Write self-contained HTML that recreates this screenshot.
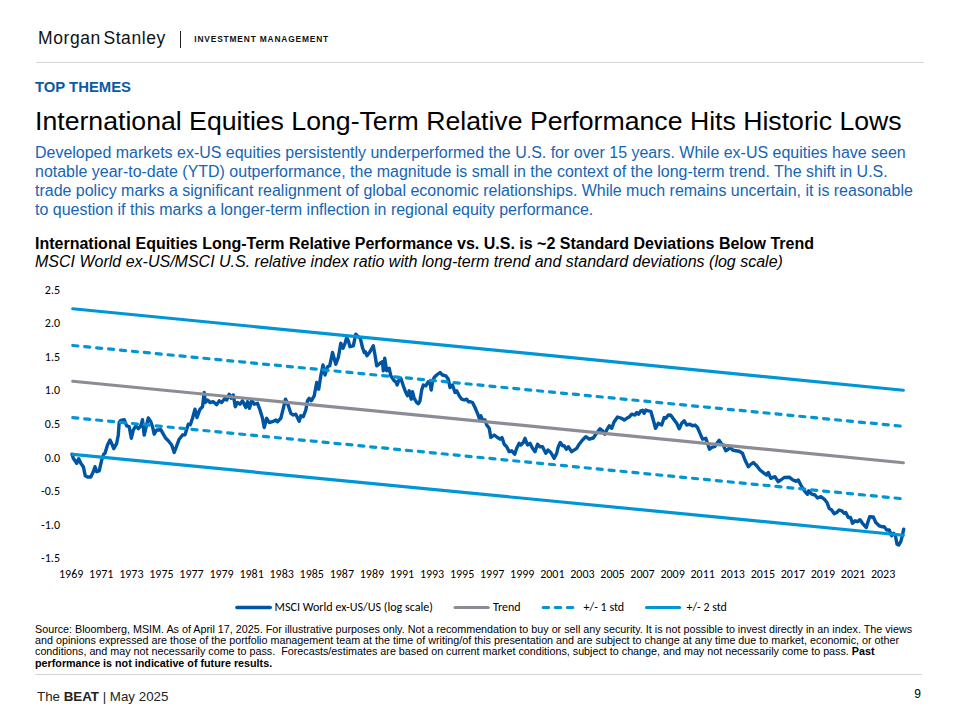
<!DOCTYPE html>
<html lang="en"><head><meta charset="utf-8"><title>The BEAT - Top Themes</title>
<style>
html,body{margin:0;padding:0;background:#fff;}
body{width:960px;height:720px;position:relative;overflow:hidden;font-family:"Liberation Sans",Arial,sans-serif;color:#000;}
.abs{position:absolute;white-space:nowrap;}
.chart{position:absolute;left:0;top:0;}
.logo{left:38px;top:27.5px;font-size:17.5px;line-height:20px;letter-spacing:0.58px;word-spacing:-2.84px;color:#111;}
.bar{position:absolute;left:180px;top:30.7px;width:1px;height:17px;background:#222;}
.im{left:194.3px;top:33.4px;font-size:8.4px;line-height:12px;font-weight:bold;letter-spacing:0.83px;color:#111;}
.rule{position:absolute;height:1.3px;background:#D4D4D4;}
.top{left:35px;top:78.6px;font-size:14.85px;line-height:17px;font-weight:bold;color:#0A5AA6;}
.title{left:35px;top:105.9px;font-size:26.67px;line-height:31px;}
.sub{left:35px;top:143.4px;font-size:15.97px;line-height:19px;color:#1565B4;white-space:normal;width:900px;}
.ct{left:35px;top:234.5px;font-size:16px;line-height:18px;font-weight:bold;}
.ci{left:35px;top:252.5px;font-size:16px;line-height:18px;font-style:italic;}
.src{left:35px;top:623.5px;font-size:10.76px;line-height:11.45px;white-space:normal;width:900px;}
.foot{left:37px;top:688.8px;font-size:13.33px;line-height:15px;color:#222;}
.pg{left:914.3px;top:686.5px;font-size:12px;line-height:14px;}
</style></head><body>
<div class="abs logo">Morgan Stanley</div>
<div class="bar"></div>
<div class="abs im">INVESTMENT MANAGEMENT</div>
<div class="rule" style="left:36px;top:61.7px;width:887.5px;"></div>
<div class="abs top">TOP THEMES</div>
<div class="abs title">International Equities Long-Term Relative Performance Hits Historic Lows</div>
<div class="abs sub">Developed markets ex-US equities persistently underperformed the U.S. for over 15 years. While ex-US equities have seen<br>notable year-to-date (YTD) outperformance, the magnitude is small in the context of the long-term trend. The shift in U.S.<br>trade policy marks a significant realignment of global economic relationships. While much remains uncertain, it is reasonable<br>to question if this marks a longer-term inflection in regional equity performance.</div>
<div class="abs ct">International Equities Long-Term Relative Performance vs. U.S. is ~2 Standard Deviations Below Trend</div>
<div class="abs ci">MSCI World ex-US/MSCI U.S. relative index ratio with long-term trend and standard deviations (log scale)</div>
<svg class="chart" width="960" height="720" viewBox="0 0 960 720">
<g fill="none" stroke-linecap="round" stroke-linejoin="round">
<polyline points="72.0,454.2 73.3,458.3 76.7,463.3 78.7,458.7 80.8,463.3 83.3,466.7 85.3,475.8 87.5,477.0 90.8,477.0 93.3,471.7 95.0,466.7 96.7,471.7 99.2,470.8 101.7,460.0 103.7,454.2 105.0,453.3 107.5,445.0 110.0,440.0 112.0,444.2 113.7,448.7 116.7,443.3 118.3,435.0 119.2,422.5 120.8,420.3 124.2,419.7 126.7,425.8 129.2,426.7 131.3,438.3 133.3,430.0 135.8,425.8 138.3,428.7 140.8,425.8 142.5,419.7 144.2,435.0 145.8,428.3 148.3,418.0 150.8,421.7 152.5,426.7 154.2,434.2 156.7,430.0 160.8,429.7 163.3,434.2 165.8,438.3 168.3,440.8 171.7,445.0 174.2,452.5 176.7,445.8 179.2,439.2 182.5,435.0 185.0,434.7 188.3,424.2 190.3,424.7 192.5,418.3 195.0,409.2 197.0,417.5 200.0,409.2 202.5,406.7 204.2,392.5 205.3,402.5 207.5,400.0 210.0,402.5 213.3,401.7 216.7,404.7 219.2,400.8 221.7,402.5 225.0,398.3 226.7,400.0 229.2,394.2 231.2,398.3 233.3,395.0 235.3,406.7 237.5,402.5 240.0,404.2 242.5,400.8 245.8,407.5 247.5,401.7 249.5,408.3 251.7,400.0 254.2,404.2 257.5,403.3 260.0,410.0 262.5,418.3 264.2,427.5 266.7,418.3 269.2,422.5 272.5,421.7 275.8,420.0 277.5,421.7 280.8,418.3 283.3,408.3 285.5,399.2 287.5,403.3 290.8,413.3 293.3,415.0 295.8,414.2 299.2,421.3 300.8,415.8 303.3,416.7 305.8,410.0 307.5,400.8 309.2,398.3 311.3,400.8 314.2,395.8 316.7,382.5 318.7,389.2 320.8,375.8 323.0,365.0 325.0,375.0 327.5,366.7 329.7,365.8 332.5,352.5 335.8,364.2 338.3,357.5 340.8,343.3 343.0,348.3 345.0,343.3 346.7,337.5 348.3,340.8 350.0,346.7 353.3,345.8 355.8,334.2 358.3,336.7 360.3,338.3 362.5,347.5 364.2,352.5 365.3,351.7 367.0,355.8 370.0,351.7 373.3,345.8 375.0,355.0 376.7,365.8 380.0,363.3 382.5,361.7 383.3,370.8 384.7,358.3 386.7,370.8 389.2,368.3 390.8,375.8 394.2,380.8 395.8,381.7 397.2,385.0 399.2,379.2 400.8,378.3 403.3,385.8 405.8,392.5 407.5,395.8 409.2,390.8 411.2,399.2 412.5,391.7 414.2,398.3 416.7,402.5 418.3,403.8 420.0,400.8 421.7,390.0 423.3,385.0 425.8,385.8 428.3,381.7 430.0,383.3 431.2,390.0 432.5,381.7 434.2,377.5 436.7,375.0 440.0,372.5 442.5,375.0 445.8,375.8 448.3,379.2 450.0,387.5 452.5,385.0 455.0,392.5 456.7,390.8 459.2,395.8 461.7,399.2 464.2,400.0 466.7,399.2 468.3,401.7 470.0,401.7 472.5,402.5 475.0,407.5 477.5,413.3 479.2,418.3 480.8,415.8 482.5,420.0 485.0,420.0 486.7,425.0 489.2,428.3 490.8,437.5 494.2,435.0 497.5,437.5 500.0,439.2 502.0,437.5 504.2,444.2 506.7,446.7 509.2,451.7 511.7,450.8 514.7,454.2 516.7,448.3 519.2,443.3 520.8,445.0 523.3,442.5 525.0,438.3 527.5,445.0 530.0,443.3 532.5,448.3 535.0,451.7 537.5,444.2 540.0,446.7 542.5,446.7 545.8,453.3 548.0,450.0 550.8,452.5 554.2,458.3 556.7,453.3 558.3,446.7 560.3,442.5 562.5,445.8 564.2,445.8 566.3,449.2 568.3,446.7 571.7,451.7 576.7,448.3 579.2,444.2 582.5,440.0 585.8,436.7 589.2,439.2 593.3,438.0 595.8,434.2 600.0,428.8 602.5,430.8 604.7,434.2 606.7,430.0 609.2,425.8 611.7,428.3 614.2,421.7 617.5,417.0 621.7,418.3 624.2,420.0 626.7,418.3 629.2,417.0 631.7,414.2 635.0,415.0 636.7,412.5 638.7,414.2 640.8,410.8 642.5,410.3 644.2,413.3 645.8,410.0 648.3,410.8 650.8,411.3 653.3,420.0 655.5,428.3 658.3,423.3 661.7,425.0 664.2,417.5 665.8,418.3 668.3,415.0 670.8,415.3 674.2,420.0 676.7,423.3 679.2,428.7 681.7,423.3 684.2,420.8 686.7,425.0 690.0,424.2 692.5,425.8 695.0,425.0 697.5,427.5 700.0,433.3 702.5,439.2 705.8,438.3 707.5,443.3 709.5,449.2 711.7,447.5 715.0,446.3 717.5,442.5 719.2,440.3 721.7,444.2 723.3,445.0 725.8,450.8 728.3,449.2 730.0,446.7 732.5,450.0 735.8,450.8 739.2,451.3 742.5,453.3 745.0,460.0 748.3,466.7 750.0,465.0 753.3,462.5 756.7,465.8 760.0,470.0 764.2,473.3 766.7,475.0 768.3,472.5 770.8,478.3 775.0,476.7 778.3,481.7 780.8,480.0 784.2,477.5 789.2,477.2 792.5,479.7 795.8,481.3 798.3,480.0 800.8,485.0 803.3,489.2 805.8,492.5 807.5,494.2 808.7,490.8 811.7,494.2 815.0,495.0 817.5,498.0 820.8,496.7 824.2,499.2 827.0,502.5 829.2,508.3 831.7,510.0 834.2,513.7 836.7,512.5 839.2,510.0 841.7,510.8 844.2,513.3 845.8,512.5 848.3,517.5 850.5,517.5 852.5,523.3 855.0,520.8 857.5,521.7 860.0,519.7 862.5,523.3 866.3,527.5 868.0,521.7 869.7,516.7 873.3,517.0 875.8,522.5 879.2,525.8 881.7,526.7 884.2,526.7 886.7,530.0 889.2,530.0 891.7,535.8 893.7,533.3 895.3,535.0 897.0,544.2 898.7,545.0 900.8,541.7 902.5,535.0 903.7,529.2" stroke="#0055A3" stroke-width="3.4"/>
<line x1="72.8" y1="381.28" x2="903.3" y2="462.73" stroke="#8C8C94" stroke-width="3.2"/>
<line x1="72.8" y1="345.48" x2="903.3" y2="426.33" stroke="#0096D6" stroke-width="3.2" stroke-dasharray="5.1 6.874"/>
<line x1="72.8" y1="417.68" x2="903.3" y2="498.83" stroke="#0096D6" stroke-width="3.2" stroke-dasharray="5.1 6.874"/>
<line x1="72.8" y1="308.78" x2="903.3" y2="390.23" stroke="#0096D6" stroke-width="3.2"/>
<line x1="72.8" y1="454.38" x2="903.3" y2="535.23" stroke="#0096D6" stroke-width="3.2"/>
<line x1="236.9" y1="607.5" x2="270.3" y2="607.5" stroke="#0055A3" stroke-width="3.4"/>
<line x1="455.1" y1="607.5" x2="488.2" y2="607.5" stroke="#8C8C94" stroke-width="3.2"/>
<line x1="543.2" y1="607.5" x2="573.0" y2="607.5" stroke="#0096D6" stroke-width="3.2" stroke-dasharray="5.4 6.7"/>
<line x1="646.6" y1="607.5" x2="679.6" y2="607.5" stroke="#0096D6" stroke-width="3.2"/>
</g>
<g font-family="Carlito, 'Liberation Sans', sans-serif" font-size="12" fill="#000">
<text x="44.80" y="293.6" textLength="15.2" lengthAdjust="spacingAndGlyphs">2.5</text>
<text x="44.80" y="327.2" textLength="15.2" lengthAdjust="spacingAndGlyphs">2.0</text>
<text x="44.80" y="360.8" textLength="15.2" lengthAdjust="spacingAndGlyphs">1.5</text>
<text x="44.80" y="394.4" textLength="15.2" lengthAdjust="spacingAndGlyphs">1.0</text>
<text x="44.80" y="428.0" textLength="15.2" lengthAdjust="spacingAndGlyphs">0.5</text>
<text x="44.80" y="461.6" textLength="15.2" lengthAdjust="spacingAndGlyphs">0.0</text>
<text x="41.12" y="495.2" textLength="18.88" lengthAdjust="spacingAndGlyphs">-0.5</text>
<text x="41.12" y="528.8" textLength="18.88" lengthAdjust="spacingAndGlyphs">-1.0</text>
<text x="41.12" y="562.4" textLength="18.88" lengthAdjust="spacingAndGlyphs">-1.5</text>
<text x="59.04" y="578.4" textLength="24.33" lengthAdjust="spacingAndGlyphs">1969</text>
<text x="89.11" y="578.4" textLength="24.33" lengthAdjust="spacingAndGlyphs">1971</text>
<text x="119.18" y="578.4" textLength="24.33" lengthAdjust="spacingAndGlyphs">1973</text>
<text x="149.25" y="578.4" textLength="24.33" lengthAdjust="spacingAndGlyphs">1975</text>
<text x="179.32" y="578.4" textLength="24.33" lengthAdjust="spacingAndGlyphs">1977</text>
<text x="209.39" y="578.4" textLength="24.33" lengthAdjust="spacingAndGlyphs">1979</text>
<text x="239.46" y="578.4" textLength="24.33" lengthAdjust="spacingAndGlyphs">1981</text>
<text x="269.52" y="578.4" textLength="24.33" lengthAdjust="spacingAndGlyphs">1983</text>
<text x="299.59" y="578.4" textLength="24.33" lengthAdjust="spacingAndGlyphs">1985</text>
<text x="329.66" y="578.4" textLength="24.33" lengthAdjust="spacingAndGlyphs">1987</text>
<text x="359.73" y="578.4" textLength="24.33" lengthAdjust="spacingAndGlyphs">1989</text>
<text x="389.80" y="578.4" textLength="24.33" lengthAdjust="spacingAndGlyphs">1991</text>
<text x="419.88" y="578.4" textLength="24.33" lengthAdjust="spacingAndGlyphs">1993</text>
<text x="449.94" y="578.4" textLength="24.33" lengthAdjust="spacingAndGlyphs">1995</text>
<text x="480.01" y="578.4" textLength="24.33" lengthAdjust="spacingAndGlyphs">1997</text>
<text x="510.08" y="578.4" textLength="24.33" lengthAdjust="spacingAndGlyphs">1999</text>
<text x="540.16" y="578.4" textLength="24.33" lengthAdjust="spacingAndGlyphs">2001</text>
<text x="570.23" y="578.4" textLength="24.33" lengthAdjust="spacingAndGlyphs">2003</text>
<text x="600.30" y="578.4" textLength="24.33" lengthAdjust="spacingAndGlyphs">2005</text>
<text x="630.37" y="578.4" textLength="24.33" lengthAdjust="spacingAndGlyphs">2007</text>
<text x="660.44" y="578.4" textLength="24.33" lengthAdjust="spacingAndGlyphs">2009</text>
<text x="690.51" y="578.4" textLength="24.33" lengthAdjust="spacingAndGlyphs">2011</text>
<text x="720.58" y="578.4" textLength="24.33" lengthAdjust="spacingAndGlyphs">2013</text>
<text x="750.65" y="578.4" textLength="24.33" lengthAdjust="spacingAndGlyphs">2015</text>
<text x="780.72" y="578.4" textLength="24.33" lengthAdjust="spacingAndGlyphs">2017</text>
<text x="810.79" y="578.4" textLength="24.33" lengthAdjust="spacingAndGlyphs">2019</text>
<text x="840.86" y="578.4" textLength="24.33" lengthAdjust="spacingAndGlyphs">2021</text>
<text x="870.93" y="578.4" textLength="24.33" lengthAdjust="spacingAndGlyphs">2023</text>
<text x="274.6" y="611.3" textLength="158.4" lengthAdjust="spacingAndGlyphs">MSCI World ex-US/US (log scale)</text>
<text x="493.0" y="611.3" textLength="27.6" lengthAdjust="spacingAndGlyphs">Trend</text>
<text x="583.6" y="611.3" textLength="40.6" lengthAdjust="spacingAndGlyphs">+/- 1 std</text>
<text x="686.6" y="611.3" textLength="40.2" lengthAdjust="spacingAndGlyphs">+/- 2 std</text>
</g>
</svg>
<div class="abs src">Source: Bloomberg, MSIM. As of April 17, 2025. For illustrative purposes only. Not a recommendation to buy or sell any security. It is not possible to invest directly in an index. The views<br>and opinions expressed are those of the portfolio management team at the time of writing/of this presentation and are subject to change at any time due to market, economic, or other<br>conditions, and may not necessarily come to pass.&nbsp; Forecasts/estimates are based on current market conditions, subject to change, and may not necessarily come to pass. <b>Past<br>performance is not indicative of future results.</b></div>
<div class="rule" style="left:35.3px;top:673.7px;width:887px;height:1.5px;"></div>
<div class="abs foot">The <b>BEAT</b> | May 2025</div>
<div class="abs pg">9</div>
</body></html>
